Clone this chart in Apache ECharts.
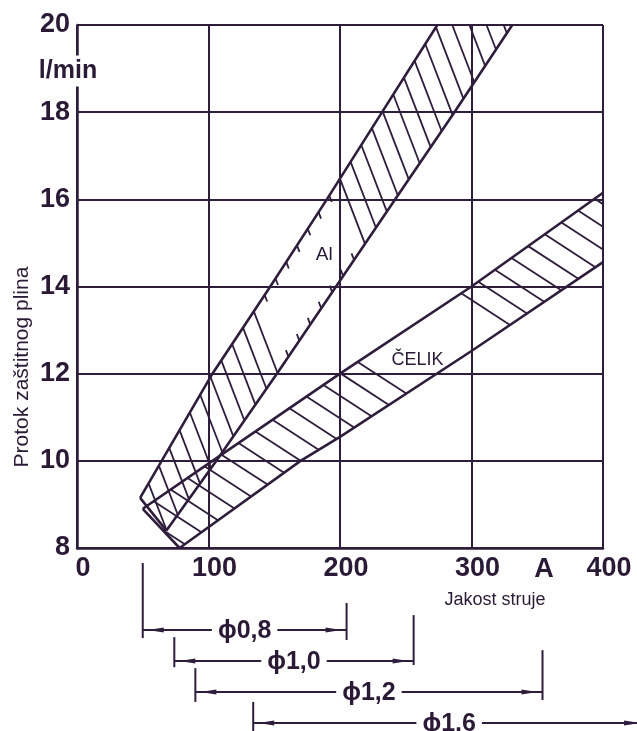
<!DOCTYPE html>
<html><head><meta charset="utf-8">
<script src="https://cdn.jsdelivr.net/npm/echarts/dist/echarts.min.js"></script>
<style>html,body{margin:0;padding:0;background:#fff}#c{width:637px;height:731px}</style>
</head><body><div id="c"></div>
<script>
// ---- data ----
const xMin = 0, xMax = 400, xStep = 100;
const yMin = 8, yMax = 20, yStep = 2;
const yUnit = 'l/min';
const xUnit = 'A';
const yTitle = 'Protok zaštitnog plina';
const xTitle = 'Jakost struje';

const alUpperX = [48, 103, 147, 190, 232, 274];
const alUpperY = [9.15, 12, 14, 16, 18, 20];
const alLowerX = [68, 106, 152, 197, 242, 287, 331];
const alLowerY = [8.4, 10, 12, 14, 16, 18, 20];
const alHatchGap = [140, 196];
const alLabel = ['Al', 188, 14.72];

const celikUpperX = [50, 103, 200, 300, 400];
const celikUpperY = [8.9, 10, 12, 14, 16.15];
const celikLowerX = [78, 170, 200, 300, 400];
const celikLowerY = [8, 10, 10.55, 12.52, 14.56];
const celikHatchGap = [215, 290];
const celikLabel = ['ČELIK', 259, 12.31];

const wireLabels = ['ϕ0,8', 'ϕ1,0', 'ϕ1,2', 'ϕ1,6'];
const wireMin = [50, 74, 90, 134];
const wireMax = [205, 256, 354, 432];

// ---- styles ----
const INK = '#2e1d3b';
const TXT = '#2a1a35';
const FONT = '"Liberation Sans", Arial, sans-serif';

const bands = [
  {ux: alUpperX, uy: alUpperY, lx: alLowerX, ly: alLowerY, gap: alHatchGap, label: alLabel,
   slope: 2.6, spacing: 16, stubs: true, fs: 19},
  {ux: celikUpperX, uy: celikUpperY, lx: celikLowerX, ly: celikLowerY, gap: celikHatchGap, label: celikLabel,
   slope: 0.65, spacing: 19, stubs: false, fs: 18}
];

function renderBand(params, api) {
  const b = bands[params.dataIndex];
  const U = b.ux.map((x, i) => api.coord([x, b.uy[i]]));
  const L = b.lx.map((x, i) => api.coord([x, b.ly[i]]));
  const children = [];
  const poly = U.concat(L.slice().reverse());
  const len = Math.hypot(1, b.slope);
  const d = [1 / len, b.slope / len];
  const n = [-d[1], d[0]];
  const cs = poly.map(p => n[0] * p[0] + n[1] * p[1]);
  const cmin = Math.min(...cs), cmax = Math.max(...cs);
  const px0 = api.coord([xMin, yMin])[0], px1 = api.coord([xMax, yMin])[0];
  const toX = px => xMin + (px - px0) / (px1 - px0) * (xMax - xMin);
  const hatchStyle = {stroke: INK, lineWidth: 1.8};
  for (let c = cmin + b.spacing * 0.5; c < cmax; c += b.spacing) {
    const pts = [];
    for (let i = 0; i < poly.length; i++) {
      const j = (i + 1) % poly.length;
      const ca = cs[i], cb = cs[j];
      if ((ca - c) * (cb - c) < 0) {
        const t = (c - ca) / (cb - ca);
        pts.push([poly[i][0] + t * (poly[j][0] - poly[i][0]), poly[i][1] + t * (poly[j][1] - poly[i][1])]);
      }
    }
    pts.sort((p, q) => (d[0] * p[0] + d[1] * p[1]) - (d[0] * q[0] + d[1] * q[1]));
    for (let k = 0; k + 1 < pts.length; k += 2) {
      const p = pts[k], q = pts[k + 1];
      const xs = toX(p[0]);
      if (xs > b.gap[0] && xs < b.gap[1]) {
        if (b.stubs) {
          const st = 7;
          children.push({type: 'line', shape: {x1: p[0], y1: p[1], x2: p[0] + st * d[0], y2: p[1] + st * d[1]}, style: hatchStyle});
          children.push({type: 'line', shape: {x1: q[0], y1: q[1], x2: q[0] - st * d[0], y2: q[1] - st * d[1]}, style: hatchStyle});
        }
        continue;
      }
      children.push({type: 'line', shape: {x1: p[0], y1: p[1], x2: q[0], y2: q[1]}, style: hatchStyle});
    }
  }
  const edge = {stroke: INK, lineWidth: 2.6, fill: null};
  children.push({type: 'polyline', shape: {points: U}, style: edge});
  children.push({type: 'polyline', shape: {points: L}, style: edge});
  children.push({type: 'line', shape: {x1: U[0][0], y1: U[0][1], x2: L[0][0], y2: L[0][1]}, style: edge});
  const lp = api.coord([b.label[1], b.label[2]]);
  children.push({type: 'text', x: lp[0], y: lp[1], style: {text: b.label[0], fill: TXT, font: b.fs + 'px ' + FONT, align: 'center', verticalAlign: 'middle'}});
  return {type: 'group', children};
}

// tick extents (in row units) of the end markers of the wire-diameter ranges
const leftUp = [2.16, 0.77, 0.77, 0.68], leftDown = [0.26, 0.2, 0.32, 0.4];
const rightUp = [0.87, 1.48, 1.35, 0.8], rightDown = [0.32, 0.13, 0.26, 0.3];

function renderWire(params, api) {
  const i = params.dataIndex;
  const a = api.value(0), bEnd = api.value(1), row = api.value(2);
  const s = api.coord([a, row]), e = api.coord([bEnd, row]);
  const lt = api.coord([a, row - leftUp[i]]), lb = api.coord([a, row + leftDown[i]]);
  const rt = api.coord([bEnd, row - rightUp[i]]), rb = api.coord([bEnd, row + rightDown[i]]);
  const st = {stroke: INK, lineWidth: 2};
  const y = s[1];
  const ch = [
    {type: 'line', shape: {x1: s[0], y1: y, x2: e[0], y2: y}, style: st},
    {type: 'line', shape: {x1: lt[0], y1: lt[1], x2: lb[0], y2: lb[1]}, style: st},
    {type: 'line', shape: {x1: rt[0], y1: rt[1], x2: rb[0], y2: rb[1]}, style: st},
    {type: 'polygon', shape: {points: [[s[0] + 5, y], [s[0] + 21, y - 2.6], [s[0] + 21, y + 2.6]]}, style: {fill: INK}},
    {type: 'polygon', shape: {points: [[e[0] - 5, y], [e[0] - 21, y - 2.6], [e[0] - 21, y + 2.6]]}, style: {fill: INK}},
    {type: 'text', x: (s[0] + e[0]) / 2, y: y + 1, style: {text: wireLabels[i], fill: TXT, font: 'bold 25px ' + FONT, align: 'center', verticalAlign: 'middle', backgroundColor: '#fff', padding: [0, 6]}}
  ];
  return {type: 'group', children: ch};
}

const chart = echarts.init(document.getElementById('c'), null, {renderer: 'canvas'});
chart.setOption({
  backgroundColor: '#fff',
  animation: false,
  grid: [
    {left: 77, right: 34, top: 25, bottom: 183},
    {left: 77, right: 34, top: 599, height: 124}
  ],
  xAxis: [
    {gridIndex: 0, type: 'value', min: xMin, max: xMax, interval: xStep,
     axisLine: {show: true, lineStyle: {color: INK, width: 2.5}},
     axisTick: {show: false},
     splitLine: {show: true, lineStyle: {color: INK, width: 2}},
     axisLabel: {color: TXT, fontSize: 27, fontWeight: 'bold', fontFamily: FONT, margin: 7, padding: [0, 0, 0, 12]}},
    {gridIndex: 1, type: 'value', min: xMin, max: xMax, show: false}
  ],
  yAxis: [
    {gridIndex: 0, type: 'value', min: yMin, max: yMax, interval: yStep,
     axisLine: {show: true, lineStyle: {color: INK, width: 2.5}},
     axisTick: {show: false},
     splitLine: {show: true, lineStyle: {color: INK, width: 2}},
     axisLabel: {color: TXT, fontSize: 27, fontWeight: 'bold', fontFamily: FONT, margin: 7}},
    {gridIndex: 1, type: 'value', min: 0, max: 4, inverse: true, show: false}
  ],
  series: [
    {type: 'custom', xAxisIndex: 0, yAxisIndex: 0, renderItem: renderBand,
     data: bands.map(b => [b.label[1], b.label[2]]), z: 5, silent: true},
    {type: 'custom', xAxisIndex: 1, yAxisIndex: 1, renderItem: renderWire,
     encode: {x: [0, 1], y: 2},
     data: wireLabels.map((l, i) => [wireMin[i], wireMax[i], i + 1]), z: 5, silent: true}
  ],
  graphic: [
    {type: 'text', x: 68, y: 71, z: 100, style: {text: yUnit, fill: TXT, font: 'bold 25px ' + FONT, align: 'center', verticalAlign: 'middle', backgroundColor: '#fff', padding: [3, 0]}},
    {type: 'text', x: 22, y: 367, rotation: Math.PI / 2, z: 100, style: {text: yTitle, fill: TXT, font: '21px ' + FONT, align: 'center', verticalAlign: 'middle'}},
    {type: 'text', x: 495, y: 600, z: 100, style: {text: xTitle, fill: TXT, font: '18px ' + FONT, align: 'center', verticalAlign: 'middle'}},
    {type: 'text', x: 544, y: 570, z: 100, style: {text: xUnit, fill: TXT, font: 'bold 27px ' + FONT, align: 'center', verticalAlign: 'middle'}}
  ]
});
</script></body></html>
